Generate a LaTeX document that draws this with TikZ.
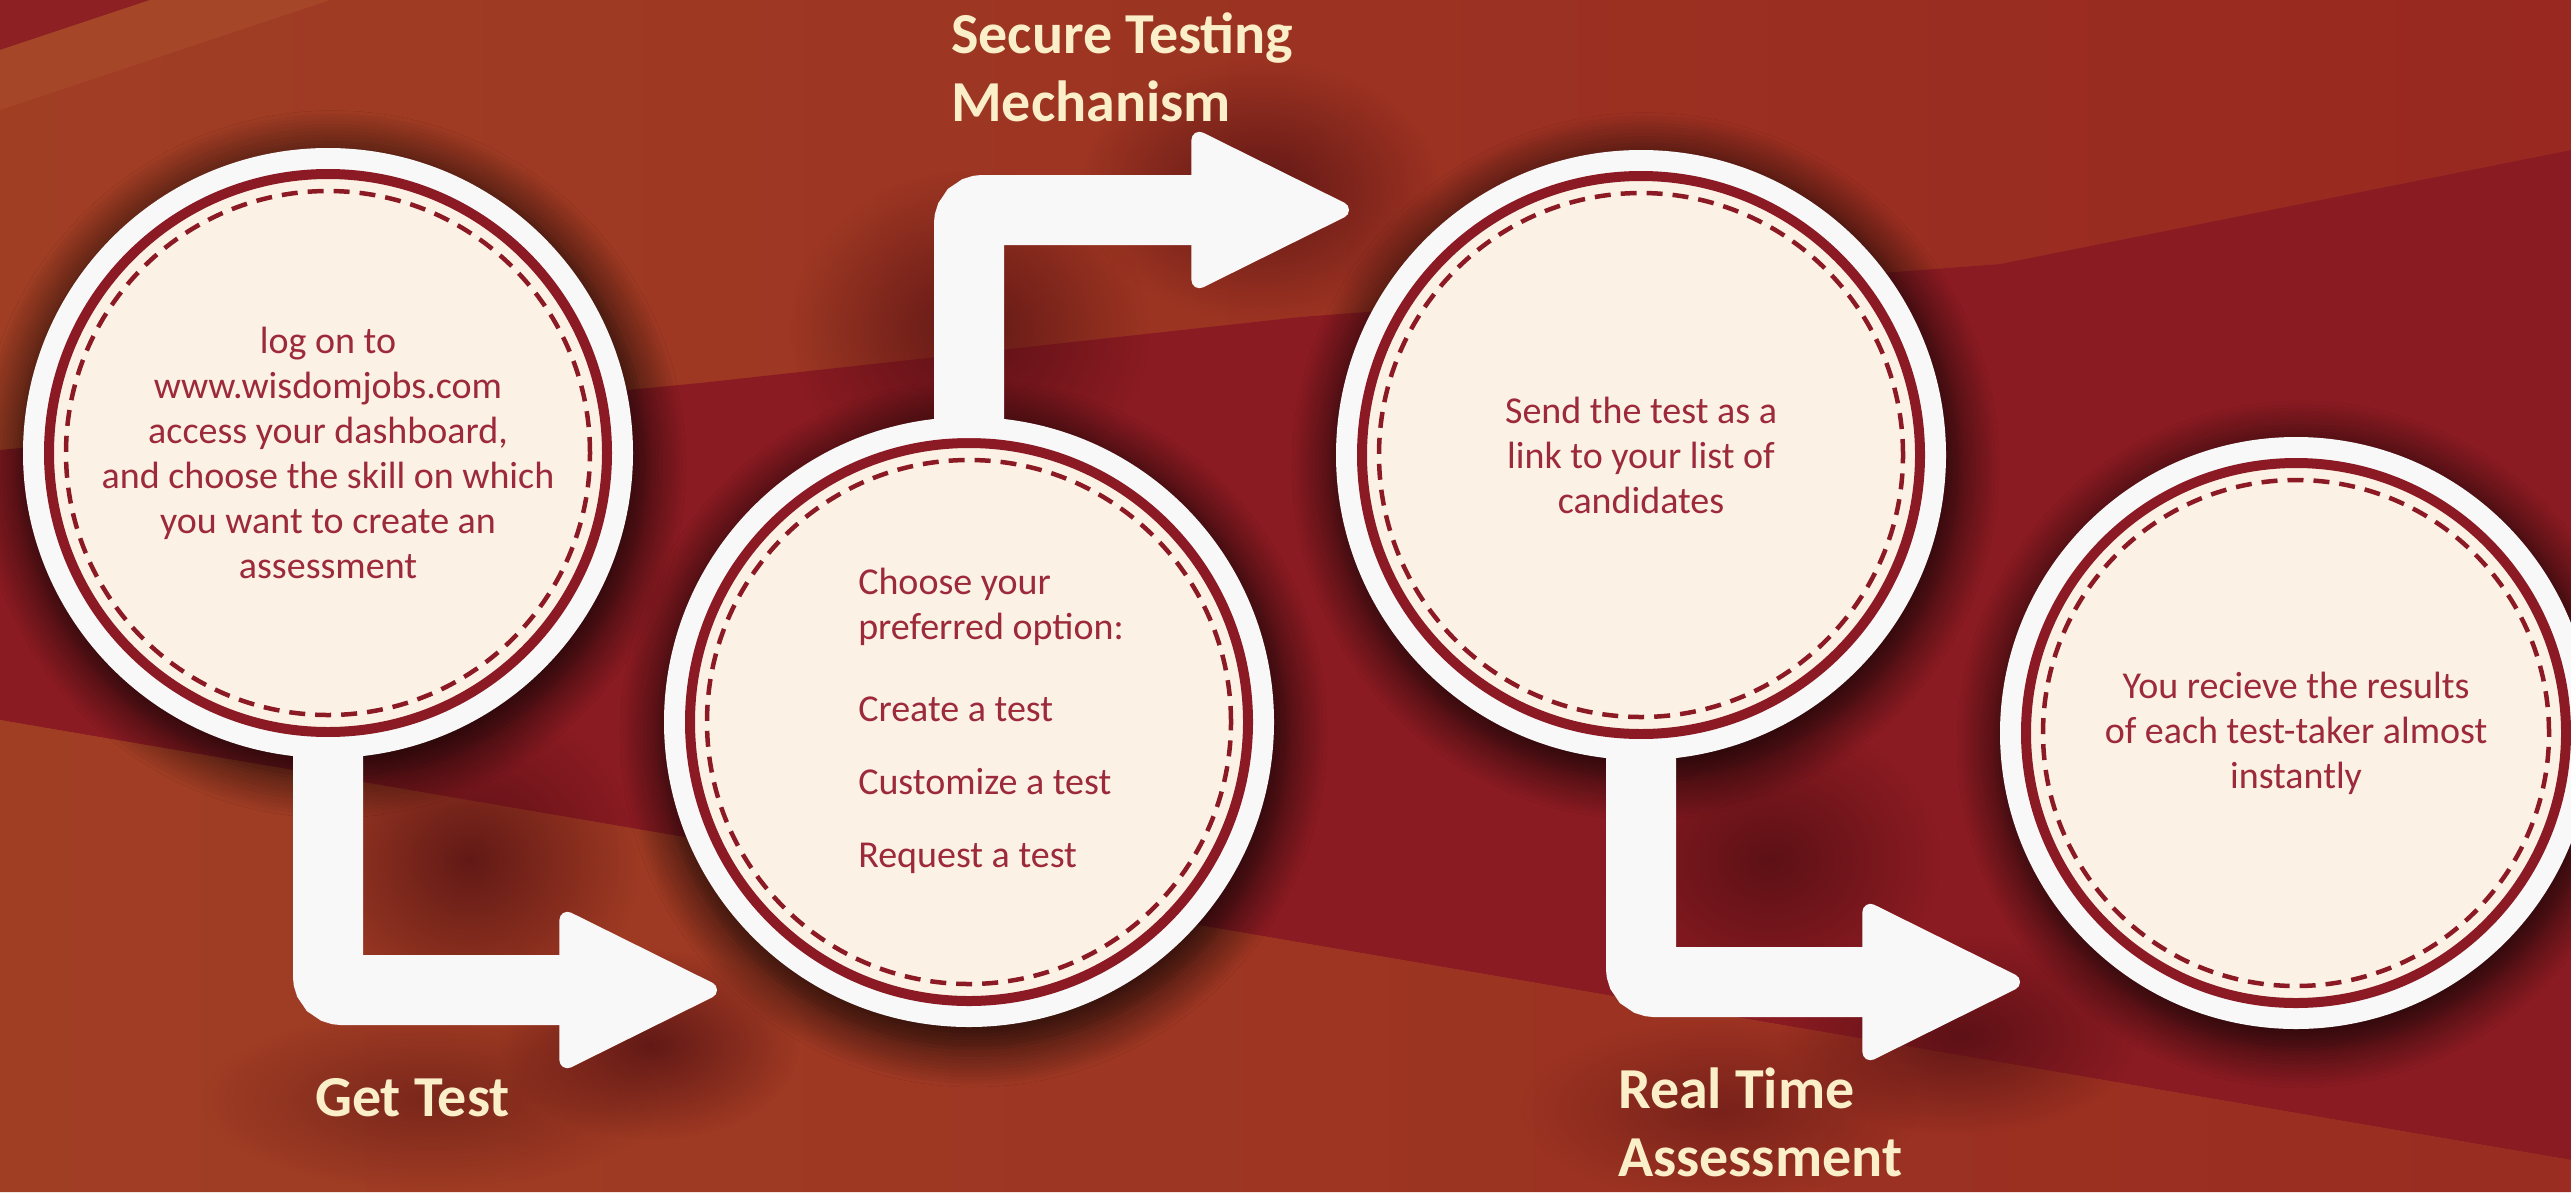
\documentclass[tikz,border=0pt]{standalone}
\usepackage{fontspec}
\setmainfont{Carlito}
\usetikzlibrary{arrows.meta,positioning,shadows.blur,fadings}

\definecolor{bgorange}{RGB}{160,62,36}
\definecolor{bgrust}{RGB}{152,40,32}
\definecolor{bgred}{RGB}{138,27,34}
\definecolor{bgdark}{RGB}{78,14,18}
\definecolor{ringred}{RGB}{140,26,36}
\definecolor{cream}{RGB}{251,241,229}
\definecolor{inkred}{RGB}{156,42,58}
\definecolor{titlecol}{RGB}{250,239,200}
\definecolor{plate}{RGB}{248,248,248}
\definecolor{stripe}{RGB}{166,70,40}

\tikzfading[name=softspot, inner color=transparent!0, outer color=transparent!100]

\begin{document}
\begin{tikzpicture}[
  x=1pt, y=-1pt,
  stitch/.store in=\stitchr, stitch=262pt,
  stepcirc/.style={circle, minimum size=558pt, inner sep=0pt, fill=cream, draw=ringred, line width=10pt,
    blur shadow={shadow blur radius=34pt, shadow scale=1.13, shadow xshift=4pt, shadow yshift=-10pt,
      shadow opacity=80, shadow blur steps=12},
    preaction={draw=plate, line width=52pt},
    path picture={\draw[ringred, line width=4.5pt, dash pattern=on 16pt off 10pt]
      (path picture bounding box.center) circle (\stitchr);},
    text=inkred, font=\fontsize{38pt}{45pt}\selectfont, align=center},
  flow/.style={draw=plate, line width=70pt, rounded corners=14pt,
    -{Triangle[length=168pt, width=162pt, line width=16pt, round]}},
  title/.style={text=titlecol, font=\fontsize{58pt}{68pt}\selectfont\bfseries,
    align=left, inner sep=0pt, anchor=north west},
  spot/.style={fill=bgdark, path fading=softspot, fill opacity=0.75}
]
\useasboundingbox (0,0) rectangle (2571,1192);

% background bands
\fill[bgorange] (0,0) rectangle (2571,1192);
\shade[left color=bgorange, right color=bgrust] (0,0) -- (2571,0) -- (2571,150) -- (2000,264)
  -- (1300,317) -- (700,383) -- (0,450) -- cycle;
\fill[bgred] (0,450) -- (700,383) -- (1300,317) -- (2000,264) -- (2571,150) -- (2571,1160)
  -- (0,720) -- cycle;
\shade[left color=bgorange, right color=bgrust!80!bgorange] (0,720) -- (2571,1160) -- (2571,1192)
  -- (0,1192) -- cycle;
\fill[bgred!85!bgorange] (0,0) -- (150,0) -- (0,50) -- cycle;
\fill[stripe] (150,0) -- (330,0) -- (0,110) -- (0,50) -- cycle;

% soft shadows round the arrows
\fill[spot] (470,860) ellipse (170pt and 160pt);
\fill[spot] (650,1045) ellipse (150pt and 95pt);
\fill[spot, fill opacity=0.45] (430,1100) ellipse (230pt and 90pt);
\fill[spot] (970,330) ellipse (180pt and 160pt);
\fill[spot] (1260,190) ellipse (180pt and 130pt);
\fill[spot] (1770,860) ellipse (170pt and 140pt);
\fill[spot] (1960,1035) ellipse (180pt and 100pt);
\fill[spot, fill opacity=0.45] (1720,1110) ellipse (200pt and 90pt);

% steps
\node[stepcirc] (login) at (328,453) {log on to\\www.wisdomjobs.com\\access your dashboard,\\and choose the skill on which\\you want to create an\\assessment};
\node[stepcirc] (choose) at (969,722) {\begin{tabular}{@{\hspace{44pt}}l@{}}Choose your\\preferred option:\\[37pt]Create a test\\[28pt]Customize a test\\[28pt]Request a test\end{tabular}};
\node[stepcirc] (send) at (1641,455) {Send the test as a\\link to your list of\\candidates};
\node[stepcirc, minimum size=540pt, stitch=253pt] (result) at (2296,733) {You recieve the results\\of each test-taker almost\\instantly};

% arrows
\coordinate (tip1) at (717,990);
\coordinate (tip2) at (1349,210);
\coordinate (tip3) at (2020,982);
\draw[flow] (login.south) |- (tip1);
\draw[flow] (choose.north) |- (tip2);
\draw[flow] (send.south) |- (tip3);

% labels
\node[title] (gettest) at (315,1078) {Get Test};
\node[title] (secure) at (951,13) {Secure Testing\\Mechanism};
\node[title] (realtime) at (1618,1068) {Real Time\\Assessment};
\end{tikzpicture}
\end{document}
